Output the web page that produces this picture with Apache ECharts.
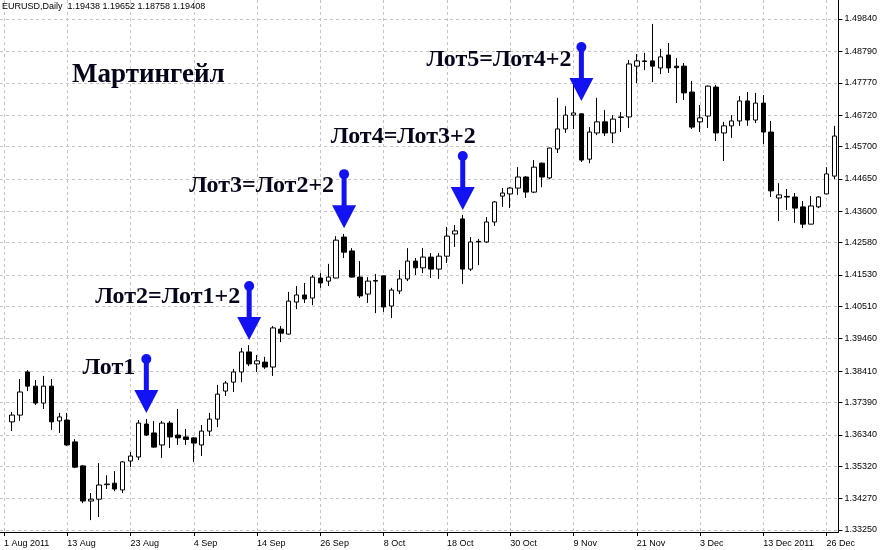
<!DOCTYPE html>
<html><head><meta charset="utf-8">
<script src="https://cdn.jsdelivr.net/npm/echarts@6/dist/echarts.min.js"></script>
<style>html,body{margin:0;padding:0;background:#fff}#c{width:880px;height:550px}</style>
</head><body><div id="c"></div>
<script>
const headerText = 'EURUSD,Daily  1.19438 1.19652 1.18758 1.19408';
const titleText = 'Мартингейл';
const tickLabels = ['1 Aug 2011','13 Aug','23 Aug','4 Sep','14 Sep','26 Sep','8 Oct','18 Oct','30 Oct','9 Nov','21 Nov','3 Dec','13 Dec 2011','26 Dec'];
const yTicks = [1.33250,1.34270,1.35320,1.36340,1.37390,1.38410,1.39460,1.40510,1.41530,1.42580,1.43600,1.44650,1.45700,1.46720,1.47770,1.48790,1.49840];

const opens = [
1.3676,1.3698,1.3838,1.3792,1.3737,1.3792,1.3679,1.3682,1.3611,1.3533,
1.3419,1.3425,1.3472,1.3477,1.3455,1.3549,1.3562,1.3669,1.3640,1.3601,
1.3672,1.3633,1.3627,1.3624,1.3601,1.3646,1.3685,1.3776,1.3805,1.3838,
1.3903,1.3864,1.3870,1.3854,1.3977,1.3961,1.4065,1.4088,1.4078,1.4143,
1.4133,1.4143,1.4276,1.4231,1.4146,1.4091,1.4133,1.4150,1.4052,1.4101,
1.4140,1.4198,1.4176,1.4211,1.4172,1.4214,1.4286,1.4335,1.4172,1.4262,
1.4260,1.4325,1.4409,1.4416,1.4435,1.4471,1.4422,1.4516,1.4468,1.4562,
1.4627,1.4672,1.4676,1.4529,1.4614,1.4650,1.4614,1.4664,1.4666,1.4831,
1.4848,1.4848,1.4825,1.4867,1.4831,1.4831,1.4747,1.4650,1.4669,1.4763,
1.4614,1.4637,1.4653,1.4718,1.4656,1.4711,1.4617,1.4403,1.4408,1.4406,
1.4374,1.4318,1.4374,1.4416,1.4474];
const closes = [
1.3698,1.3773,1.3792,1.3737,1.3792,1.3676,1.3692,1.3601,1.3529,1.3419,
1.3425,1.3471,1.3474,1.3458,1.3546,1.3565,1.3672,1.3633,1.3594,1.3672,
1.3627,1.3624,1.3619,1.3607,1.3646,1.3685,1.3766,1.3802,1.3838,1.3903,
1.3864,1.3874,1.3854,1.3981,1.3964,1.4068,1.4088,1.4075,1.4146,1.4127,
1.4146,1.4266,1.4227,1.4146,1.4085,1.4133,1.4135,1.4049,1.4104,1.4140,
1.4198,1.4176,1.4211,1.4172,1.4214,1.4279,1.4296,1.4172,1.4260,1.4260,
1.4325,1.4390,1.4419,1.4435,1.4471,1.4422,1.4503,1.4471,1.4565,1.4627,
1.4672,1.4679,1.4526,1.4617,1.4650,1.4614,1.4659,1.4666,1.4838,1.4848,
1.4846,1.4831,1.4861,1.4825,1.4826,1.4744,1.4633,1.4663,1.4766,1.4614,
1.4637,1.4653,1.4718,1.4656,1.4711,1.4617,1.4426,1.4413,1.4406,1.4370,
1.4318,1.4377,1.4406,1.4481,1.4604];
const lows = [
1.3646,1.3679,1.3776,1.3731,1.3718,1.3650,1.3640,1.3598,1.3526,1.3412,
1.3357,1.3367,1.3458,1.3451,1.3445,1.3529,1.3552,1.3630,1.3592,1.3559,
1.3591,1.3601,1.3601,1.3546,1.3565,1.3630,1.3659,1.3760,1.3773,1.3805,
1.3857,1.3838,1.3848,1.3825,1.3935,1.3960,1.4042,1.4062,1.4055,1.4111,
1.4117,1.4142,1.4208,1.4145,1.4078,1.4062,1.4029,1.4033,1.4013,1.4091,
1.4133,1.4153,1.4159,1.4143,1.4140,1.4192,1.4244,1.4124,1.4166,1.4185,
1.4257,1.4312,1.4374,1.4370,1.4413,1.4403,1.4419,1.4438,1.4464,1.4549,
1.4614,1.4627,1.4520,1.4516,1.4607,1.4604,1.4581,1.4617,1.4630,1.4776,
1.4818,1.4779,1.4805,1.4809,1.4711,1.4721,1.4627,1.4617,1.4630,1.4588,
1.4523,1.4598,1.4637,1.4637,1.4646,1.4578,1.4406,1.4328,1.4364,1.4322,
1.4305,1.4317,1.4370,1.4415,1.4464];
const highs = [
1.3708,1.3815,1.3844,1.3812,1.3825,1.3815,1.3705,1.3705,1.3620,1.3536,
1.3445,1.3542,1.3503,1.3516,1.3549,1.3578,1.3682,1.3685,1.3679,1.3679,
1.3679,1.3718,1.3653,1.3627,1.3666,1.3705,1.3796,1.3809,1.3848,1.3916,
1.3925,1.3893,1.3887,1.3987,1.3987,1.4098,1.4117,1.4127,1.4153,1.4159,
1.4189,1.4279,1.4286,1.4240,1.4198,1.4146,1.4156,1.4151,1.4111,1.4169,
1.4240,1.4208,1.4240,1.4224,1.4224,1.4309,1.4315,1.4348,1.4276,1.4270,
1.4341,1.4393,1.4435,1.4438,1.4503,1.4474,1.4526,1.4518,1.4566,1.4728,
1.4701,1.4776,1.4678,1.4633,1.4728,1.4688,1.4672,1.4682,1.4851,1.4870,
1.4874,1.4968,1.4887,1.4906,1.4857,1.4841,1.4783,1.4705,1.4768,1.4770,
1.4650,1.4672,1.4734,1.4747,1.4744,1.4737,1.4653,1.4451,1.4432,1.4419,
1.4393,1.4409,1.4409,1.4503,1.4637];

// Martingale entry annotations: bar index, price at arrow tip, label text
const lotBars = [17, 30, 42, 57, 72];
const lotTips = [1.3705, 1.3942, 1.4305, 1.4364, 1.4718];
const lotTexts = ['Лот1','Лот2=Лот1+2','Лот3=Лот2+2','Лот4=Лот3+2','Лот5=Лот4+2'];
</script>
<script>
// ---- styles / layout (not data) ----
const labelOffsets = [[-11,9],[-9,11],[-10,12],[13,-19],[-10,13]];
const BLUE = '#1212f2';
const AX_FONT = '"Liberation Sans", Arial, sans-serif';
const labelEvery = 8;

const nCats = opens.length + 1; // one leading slot (1 Aug) before the first visible bar
const categories = [];
for (let k = 0; k < nCats; k++) categories.push(k % labelEvery === 0 ? tickLabels[k / labelEvery] : 'b' + k);
const candleData = ['-'];
for (let i = 0; i < opens.length; i++) candleData.push([opens[i], closes[i], lows[i], highs[i]]);

const chart = echarts.init(document.getElementById('c'), null, {renderer: 'canvas'});
chart.setOption({
  animation: false,
  backgroundColor: '#fff',
  grid: {left: -6, right: 38, top: 0, bottom: 18, containLabel: false},
  xAxis: {
    type: 'category', data: categories, boundaryGap: true,
    axisLine: {show: true, lineStyle: {color: '#000', width: 1}},
    axisTick: {show: true, interval: labelEvery - 1, alignWithLabel: true, length: 4, lineStyle: {color: '#000'}},
    axisLabel: {interval: labelEvery - 1, align: 'left', margin: 7, color: '#000', fontSize: 9, fontFamily: AX_FONT,
      formatter: (v, idx) => (idx % labelEvery === 0 ? v : '')},
    splitLine: {show: true, interval: labelEvery - 1, alignWithLabel: true, lineStyle: {color: '#c4c4c4', type: [3, 3], width: 1}}
  },
  yAxis: {
    type: 'value', position: 'right', min: 1.33184, max: 1.50457, scale: true,
    axisLine: {show: true, lineStyle: {color: '#000', width: 1}},
    axisTick: {show: true, length: 4, customValues: yTicks, lineStyle: {color: '#000'}},
    axisLabel: {customValues: yTicks, margin: 6, color: '#000', fontSize: 9, fontFamily: AX_FONT,
      formatter: v => v.toFixed(5)},
    splitLine: {show: true, lineStyle: {color: '#c4c4c4', type: [3, 3], width: 1}}
  },
  graphic: [
    {type: 'text', left: 2, top: 2, z: 100, style: {text: headerText, fill: '#000', font: '9px ' + AX_FONT}},
    {type: 'text', x: 72, y: 75, z: 100, style: {text: titleText, fill: '#05051a', font: 'bold 27px "Liberation Serif", "Times New Roman", serif', verticalAlign: 'middle'}}
  ],
  series: [
    {
      type: 'candlestick', data: candleData, barWidth: 5,
      itemStyle: {color: '#fff', color0: '#000', borderColor: '#000', borderColor0: '#000', borderWidth: 1},
      emphasis: {disabled: true}
    },
    {
      type: 'custom', z: 10,
      data: lotBars.map((b, i) => [b + 1, lotTips[i], i]),
      encode: {x: 0, y: 1},
      renderItem: (params, api) => {
        const i = api.value(2);
        const p = api.coord([api.value(0), api.value(1)]);
        const x = p[0], yt = p[1];
        const len = 54, head = 23, hw = 12, sw = 2.5, r = 5;
        const yc = yt - len, yb = yt - head;
        const off = labelOffsets[i];
        return {type: 'group', children: [
          {type: 'rect', shape: {x: x - sw, y: yc, width: sw * 2, height: yb - yc + 1}, style: {fill: BLUE}},
          {type: 'circle', shape: {cx: x, cy: yc, r: r}, style: {fill: BLUE}},
          {type: 'polygon', shape: {points: [[x - hw, yb], [x + hw, yb], [x, yt]]}, style: {fill: BLUE}},
          {type: 'text', x: x + off[0], y: yc + off[1], style: {text: lotTexts[i], fill: '#05051a',
            font: 'bold 24px "Liberation Serif", "Times New Roman", serif', align: 'right', verticalAlign: 'middle'}}
        ]};
      }
    }
  ]
});
</script>
</body></html>
